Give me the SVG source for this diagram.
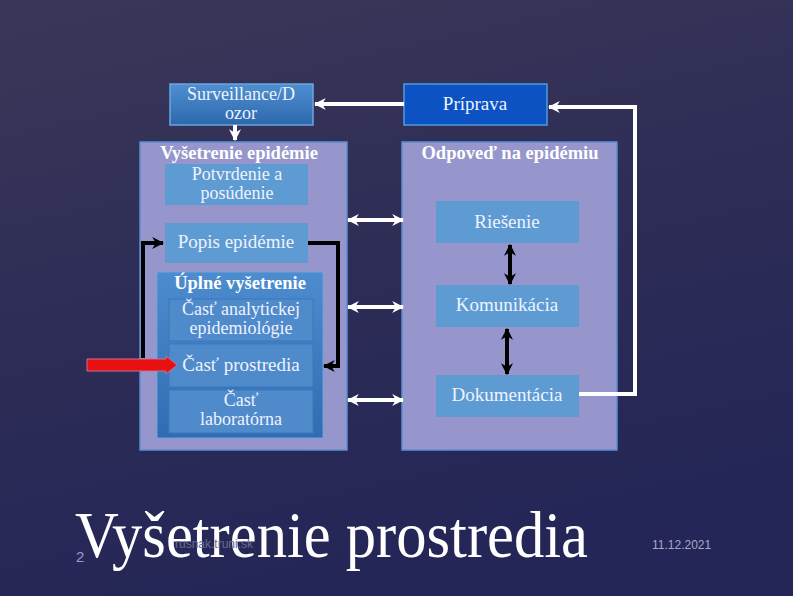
<svg xmlns="http://www.w3.org/2000/svg" width="793" height="596" viewBox="0 0 793 596">
<defs>
<linearGradient id="bg" x1="0" y1="0" x2="0.3" y2="1">
<stop offset="0" stop-color="#3a3758"/>
<stop offset="0.5" stop-color="#2e2d56"/>
<stop offset="1" stop-color="#242657"/>
</linearGradient>
<linearGradient id="surv" x1="0" y1="0" x2="0" y2="1">
<stop offset="0" stop-color="#4f8fd0"/>
<stop offset="1" stop-color="#2d68ad"/>
</linearGradient>
<linearGradient id="uplne" x1="0" y1="0" x2="0" y2="1">
<stop offset="0" stop-color="#4d8cce"/>
<stop offset="1" stop-color="#2f6cb1"/>
</linearGradient>
<marker id="wh" viewBox="0 0 10 10" refX="9" refY="5" markerWidth="3" markerHeight="3" orient="auto-start-reverse">
<path d="M0,0 L10,5 L0,10 L3,5 z" fill="#ffffff"/>
</marker>
<marker id="bh" viewBox="0 0 10 10" refX="9" refY="5" markerWidth="3" markerHeight="3" orient="auto-start-reverse">
<path d="M0,0 L10,5 L0,10 L3,5 z" fill="#000000"/>
</marker>
</defs>
<style>
.t{font-family:"Liberation Serif","Times New Roman",serif;font-size:19px;fill:#eef3ff;text-anchor:middle}
.t2{font-family:"Liberation Serif","Times New Roman",serif;font-size:18px;fill:#eef3ff;text-anchor:middle}
.b{font-family:"Liberation Serif","Times New Roman",serif;font-size:18.5px;font-weight:bold;fill:#ffffff;text-anchor:middle}
.panel{fill:#9696cc;stroke:#5a8fd3;stroke-width:1.5}
.box{fill:#5f9bd3}
.inner{fill:#4f8acb;stroke:#3b78bd;stroke-width:1}
.wl{fill:none;stroke:#ffffff;stroke-width:4}
.bl{fill:none;stroke:#000000;stroke-width:4}
</style>
<rect x="0" y="0" width="793" height="596" fill="url(#bg)"/>

<g id="panel-left"><rect class="panel" x="140" y="142" width="207" height="308"/><text class="b" x="239" y="159">Vyšetrenie epidémie</text></g>
<g id="panel-right"><rect class="panel" x="402" y="142" width="215" height="308"/><text class="b" x="510" y="159">Odpoveď na epidémiu</text></g>

<g id="surveillance"><rect x="170" y="84" width="143" height="41" fill="url(#surv)" stroke="#6aa6e0" stroke-width="1.5"/><text class="t2" x="241" y="100">Surveillance/D</text><text class="t2" x="241" y="119">ozor</text></g>
<g id="priprava"><rect x="404" y="84" width="143" height="41" fill="#0c52c2" stroke="#4f9be0" stroke-width="1.5"/><text class="t" x="475" y="110">Príprava</text></g>

<g id="potvrdenie"><rect class="box" x="165" y="164" width="143" height="41"/><text class="t2" x="237" y="180">Potvrdenie a</text><text class="t2" x="237" y="199">posúdenie</text></g>
<g id="popis"><rect class="box" x="165" y="223" width="143" height="40"/><text class="t" x="236" y="248">Popis epidémie</text></g>

<g id="uplne"><rect x="157" y="272" width="166" height="166" fill="url(#uplne)" stroke="#6ca3da" stroke-width="1"/><text class="b" x="240" y="289">Úplné vyšetrenie</text></g>
<g id="analyticka"><rect class="inner" x="169" y="299" width="144" height="42"/><text class="t2" x="241" y="315">Časť analytickej</text><text class="t2" x="241" y="334">epidemiológie</text></g>
<g id="prostredie"><rect class="inner" x="169" y="344" width="144" height="43"/><text class="t" x="241" y="371">Časť prostredia</text></g>
<g id="laboratorna"><rect class="inner" x="169" y="390" width="144" height="43"/><text class="t2" x="241" y="406">Časť</text><text class="t2" x="241" y="425">laboratórna</text></g>

<g id="riesenie"><rect class="box" x="436" y="201" width="143" height="42"/><text class="t" x="507" y="228">Riešenie</text></g>
<g id="komunikacia"><rect class="box" x="436" y="285" width="143" height="42"/><text class="t" x="507" y="311">Komunikácia</text></g>
<g id="dokumentacia"><rect class="box" x="436" y="375" width="143" height="42"/><text class="t" x="507" y="401">Dokumentácia</text></g>

<g id="connectors">
<line class="wl" x1="235" y1="125" x2="235" y2="140" marker-end="url(#wh)"/>
<line class="wl" x1="404" y1="104" x2="315" y2="104" marker-end="url(#wh)"/>
<polyline class="wl" points="579,394 635,394 635,107 549,107" marker-end="url(#wh)"/>
<line class="wl" x1="348" y1="220" x2="403" y2="220" marker-start="url(#wh)" marker-end="url(#wh)"/>
<line class="wl" x1="348" y1="307" x2="403" y2="307" marker-start="url(#wh)" marker-end="url(#wh)"/>
<line class="wl" x1="348" y1="400" x2="403" y2="400" marker-start="url(#wh)" marker-end="url(#wh)"/>
<line class="bl" x1="510" y1="245" x2="510" y2="284" marker-start="url(#bh)" marker-end="url(#bh)"/>
<line class="bl" x1="507" y1="329" x2="507" y2="374" marker-start="url(#bh)" marker-end="url(#bh)"/>
<polyline class="bl" points="308,243 338,243 338,366 324,366" marker-end="url(#bh)"/>
<polyline class="bl" points="143,358 143,243 163,243" marker-end="url(#bh)"/>
<path d="M87,359 L166,359 L166,356 L177,365 L166,374 L166,371 L87,371 z" fill="#e81010" stroke="#c87090" stroke-width="1"/>
</g>

<text x="75" y="557" font-family="'Liberation Serif','Times New Roman',serif" font-size="66" fill="#ffffff" textLength="513" lengthAdjust="spacingAndGlyphs">Vyšetrenie prostredia</text>
<text x="175" y="548" font-family="'Liberation Sans',Arial,sans-serif" font-size="12" fill="#6a6a92">rusnak.truni.sk</text>
<text x="76" y="562" font-family="'Liberation Sans',Arial,sans-serif" font-size="15" fill="#9a9ad0">2</text>
<text x="652" y="549" font-family="'Liberation Sans',Arial,sans-serif" font-size="12" fill="#a8a8c8">11.12.2021</text>
</svg>
